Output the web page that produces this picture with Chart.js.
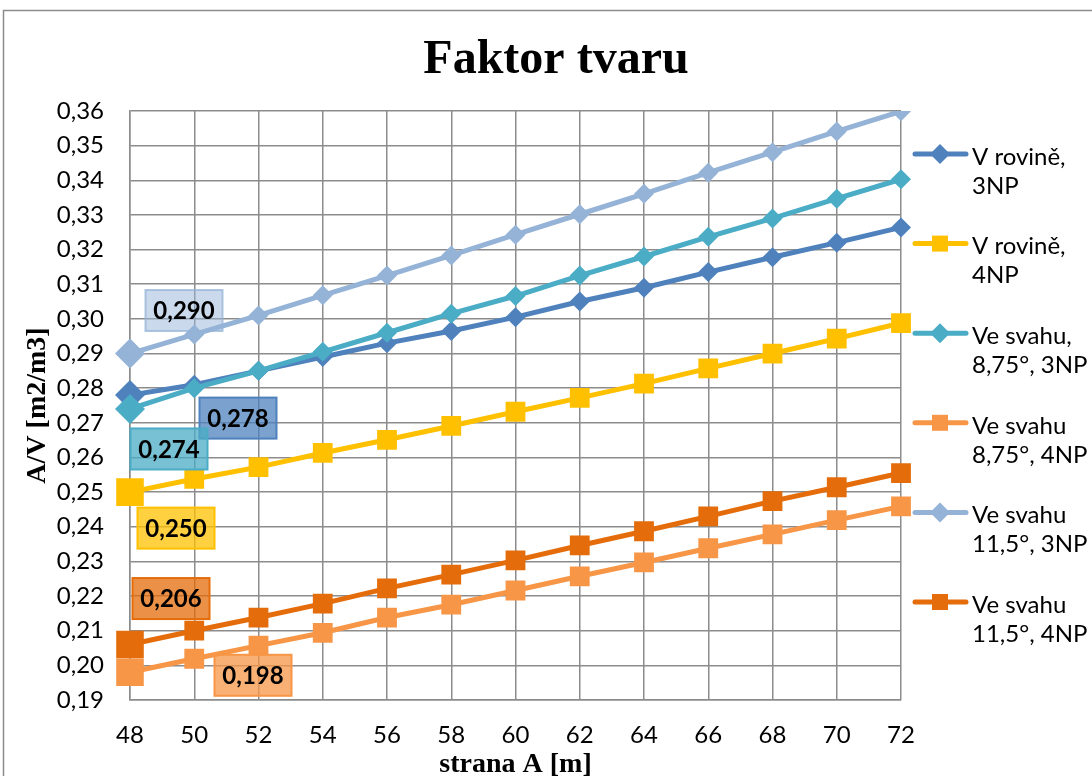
<!DOCTYPE html>
<html>
<head>
<meta charset="utf-8">
<title>Faktor tvaru</title>
<script src="https://cdn.jsdelivr.net/npm/chart.js@4.4.1/dist/chart.umd.min.js"></script>
<style>
  html, body { margin: 0; padding: 0; background: #fff; }
  #wrap { width: 1092px; height: 776px; position: relative; }
</style>
</head>
<body>
<div id="wrap"><canvas id="chart" width="1092" height="776"></canvas></div>
<script>
// strana A [m]
const strany = ['48','50','52','54','56','58','60','62','64','66','68','70','72'];

// A/V [m2/m3] pro jednotlivé varianty
const rovina3NP = [0.278, 0.281, 0.285, 0.289, 0.293, 0.2965, 0.3005, 0.305, 0.309, 0.3135, 0.3178, 0.322, 0.3264];
const rovina4NP = [0.250, 0.2538, 0.2572, 0.2613, 0.2651, 0.2691, 0.2732, 0.2772, 0.2813, 0.2857, 0.290, 0.2943, 0.2988];
const svah875_3NP = [0.274, 0.280, 0.285, 0.2905, 0.296, 0.3015, 0.3066, 0.3125, 0.318, 0.3237, 0.329, 0.3347, 0.3403];
const svah875_4NP = [0.198, 0.2019, 0.2057, 0.2094, 0.2138, 0.2175, 0.2216, 0.2257, 0.2297, 0.2338, 0.2378, 0.2419, 0.2459];
const svah115_3NP = [0.290, 0.2955, 0.301, 0.3068, 0.3125, 0.3183, 0.3243, 0.3302, 0.3361, 0.3422, 0.3481, 0.3541, 0.3599];
const svah115_4NP = [0.206, 0.210, 0.2138, 0.2178, 0.2222, 0.2262, 0.2303, 0.2346, 0.2387, 0.2430, 0.2474, 0.2514, 0.2555];

const nazvy = [
  ['V rovině,', '3NP'],
  ['V rovině,', '4NP'],
  ['Ve svahu,', '8,75°, 3NP'],
  ['Ve svahu', '8,75°, 4NP'],
  ['Ve svahu', '11,5°, 3NP'],
  ['Ve svahu', '11,5°, 4NP']
];
const hodnoty = [rovina3NP, rovina4NP, svah875_3NP, svah875_4NP, svah115_3NP, svah115_4NP];

const nadpis = 'Faktor tvaru';

// vzhled řad
const barvy = ['#4F81BD', '#FFC000', '#4BACC6', '#F79646', '#95B3D7', '#E46C0A'];
const znacky = ['rectRot', 'rect', 'rectRot', 'rect', 'rectRot', 'rect'];

// popisek první hodnoty: posun středu rámečku od bodu a průhlednost výplně
const popisky = [
  { dx: 108, dy: 23, a: 0.75 },
  { dx: 46, dy: 36, a: 0.75 },
  { dx: 39, dy: 40, a: 0.75 },
  { dx: 123, dy: 3, a: 0.75 },
  { dx: 54, dy: -43, a: 0.5 },
  { dx: 41, dy: -46, a: 0.75 }
];

function alpha(hex, a){
  const n = parseInt(hex.slice(1), 16);
  return `rgba(${n >> 16}, ${(n >> 8) & 255}, ${n & 255}, ${a})`;
}

function polomery(tvar, n){
  // první bod zvýrazněný
  const zaklad = tvar === 'rect' ? 14 : 10;
  const velky = tvar === 'rect' ? 19.5 : 15;
  return Array.from({length: n}, (_, i) => i === 0 ? velky : zaklad);
}

const datasets = hodnoty.map((h, i) => ({
  label: nazvy[i].join(' '),
  data: h,
  borderColor: barvy[i],
  backgroundColor: barvy[i],
  pointBackgroundColor: barvy[i],
  borderWidth: 5,
  pointBorderWidth: 0,
  pointStyle: znacky[i],
  pointRadius: polomery(znacky[i], h.length),
  tension: 0,
  order: 6 - i
}));

// bílé pozadí, rámeček grafu a nadpis přes celou šířku
const ramecek = {
  id: 'ramecek',
  beforeDraw(chart){
    const ctx = chart.ctx;
    ctx.save();
    ctx.fillStyle = '#fff';
    ctx.fillRect(0, 0, chart.width, chart.height);
    ctx.strokeStyle = '#8c8c8c';
    ctx.lineWidth = 1.5;
    ctx.strokeRect(3.5, 10.5, chart.width + 20, chart.height + 20);
    ctx.fillStyle = '#000';
    ctx.font = 'bold 48px "Liberation Serif"';
    ctx.textAlign = 'center';
    ctx.textBaseline = 'middle';
    ctx.fillText(nadpis, 556, 61);
    ctx.restore();
  }
};

const hodnotyPopisky = {
  id: 'hodnotyPopisky',
  afterDatasetsDraw(chart){
    const ctx = chart.ctx;
    ctx.save();
    ctx.font = 'bold 24px Lato';
    ctx.textAlign = 'center';
    ctx.textBaseline = 'middle';
    chart.data.datasets.forEach((ds, i) => {
      const bod = chart.getDatasetMeta(i).data[0];
      const p = popisky[i];
      const cx = bod.x + p.dx, cy = bod.y + p.dy;
      const w = 77, h = 41;
      ctx.fillStyle = alpha(barvy[i], p.a);
      ctx.fillRect(cx - w / 2, cy - h / 2, w, h);
      ctx.strokeStyle = alpha(barvy[i], Math.min(1, p.a + 0.25));
      ctx.lineWidth = 2;
      ctx.strokeRect(cx - w / 2, cy - h / 2, w, h);
      ctx.fillStyle = '#000';
      ctx.fillText(ds.data[0].toFixed(3).replace('.', ','), cx, cy + 1);
    });
    ctx.restore();
  }
};

const legenda = {
  id: 'legenda',
  afterDraw(chart){
    const ctx = chart.ctx;
    ctx.save();
    ctx.font = '24px Lato';
    ctx.textBaseline = 'middle';
    ctx.textAlign = 'left';
    nazvy.forEach((radky, i) => {
      const y = 154 + i * 89.6;
      ctx.strokeStyle = barvy[i];
      ctx.lineWidth = 5;
      ctx.lineCap = 'round';
      ctx.beginPath();
      ctx.moveTo(915, y);
      ctx.lineTo(966, y);
      ctx.stroke();
      ctx.fillStyle = barvy[i];
      ctx.beginPath();
      if (znacky[i] === 'rect') {
        ctx.rect(932, y - 8, 16, 16);
      } else {
        ctx.moveTo(940, y - 10); ctx.lineTo(950, y); ctx.lineTo(940, y + 10); ctx.lineTo(930, y);
        ctx.closePath();
      }
      ctx.fill();
      ctx.fillStyle = '#000';
      radky.forEach((t, j) => ctx.fillText(t, 972, y + 3 + j * 29));
    });
    ctx.restore();
  }
};

new Chart(document.getElementById('chart'), {
  type: 'line',
  data: { labels: strany, datasets },
  plugins: [ramecek, hodnotyPopisky, legenda],
  options: {
    responsive: false,
    animation: false,
    layout: { padding: { left: 24, right: 191, top: 111, bottom: 0 } },
    plugins: {
      legend: { display: false },
      tooltip: { enabled: false },
      title: { display: false }
    },
    scales: {
      x: {
        offset: false,
        afterFit: s => { s.height = 76; },
        grid: { color: '#8c8c8c', lineWidth: 1.5, drawTicks: false },
        border: { color: '#8c8c8c', width: 1.5 },
        ticks: { color: '#000', padding: 21, maxRotation: 0, font: { family: 'Lato', size: 24 } },
        title: {
          display: true,
          text: 'strana A [m]',
          color: '#000',
          padding: { top: 0, bottom: -3 },
          font: { family: 'Liberation Serif', size: 28, weight: 'bold', lineHeight: 1 }
        }
      },
      y: {
        min: 0.19,
        max: 0.36,
        afterFit: s => { s.width = 106; },
        grid: { color: '#8c8c8c', lineWidth: 1.5, drawTicks: false },
        border: { color: '#8c8c8c', width: 1.5 },
        ticks: {
          stepSize: 0.01,
          color: '#000',
          padding: 26,
          font: { family: 'Lato', size: 24 },
          callback: v => v.toFixed(2).replace('.', ',')
        },
        title: {
          display: true,
          text: 'A/V [m2/m3]',
          color: '#000',
          padding: 0,
          font: { family: 'Liberation Serif', size: 28, weight: 'bold', lineHeight: 1 }
        }
      }
    }
  }
});
</script>
</body>
</html>
